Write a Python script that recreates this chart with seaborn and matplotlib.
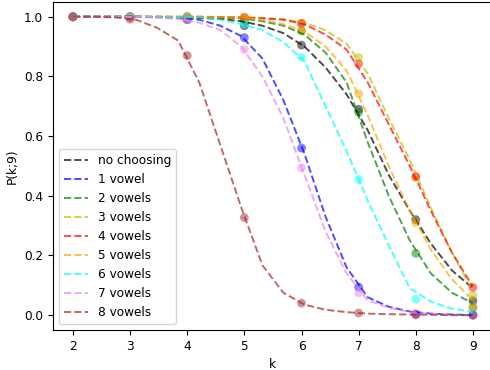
import numpy as np
import pandas as pd
import matplotlib
matplotlib.use("Agg")
import matplotlib.pyplot as plt
import seaborn as sns

labels = ["no choosing", "1 vowel", "2 vowels", "3 vowels", "4 vowels",
          "5 vowels", "6 vowels", "7 vowels", "8 vowels"]
colors = ["k", "b", "g", "y", "r", "orange", "cyan", "violet", "brown"]

# integer k where P(k;9) is evaluated exactly
k_points = [2, 3, 4, 5, 6, 7, 8, 9]
p_none   = [1.0, 1.0, 0.99, 0.97, 0.905, 0.69, 0.32, 0.048]
p_v1     = [1.0, 1.0, 0.995, 0.93, 0.56, 0.094, 0.004, 0.0]
p_v2     = [1.0, 1.0, 1.0, 0.985, 0.953, 0.68, 0.207, 0.025]
p_v3     = [1.0, 1.0, 1.0, 0.998, 0.978, 0.864, 0.46, 0.067]
p_v4     = [1.0, 1.0, 1.0, 0.998, 0.978, 0.842, 0.465, 0.093]
p_v5     = [1.0, 1.0, 1.0, 0.998, 0.953, 0.742, 0.31, 0.028]
p_v6     = [1.0, 1.0, 0.998, 0.975, 0.864, 0.455, 0.053, 0.005]
p_v7     = [1.0, 1.0, 0.99, 0.89, 0.494, 0.075, 0.003, 0.0]
p_v8     = [1.0, 0.992, 0.87, 0.327, 0.04, 0.007, 0.001, 0.0]

# continuous approximation on a finer k grid
k_curve = [2.0, 2.368, 2.737, 3.105, 3.474, 3.842, 4.211, 4.579, 4.947, 5.316,
           5.684, 6.053, 6.421, 6.789, 7.158, 7.526, 7.895, 8.263, 8.632, 9.0]
c_none = [1.0, 1.0, 1.0, 1.0, 0.999, 0.998, 0.996, 0.993, 0.985, 0.97,
          0.945, 0.90, 0.83, 0.74, 0.62, 0.47, 0.35, 0.24, 0.15, 0.09]
c_v1   = [1.0, 1.0, 1.0, 1.0, 0.999, 0.997, 0.99, 0.97, 0.935, 0.86,
          0.72, 0.54, 0.33, 0.16, 0.06, 0.028, 0.012, 0.005, 0.002, 0.0]
c_v2   = [1.0, 1.0, 1.0, 1.0, 1.0, 0.999, 0.998, 0.997, 0.995, 0.985,
          0.97, 0.94, 0.88, 0.78, 0.58, 0.40, 0.25, 0.14, 0.075, 0.04]
c_v3   = [1.0, 1.0, 1.0, 1.0, 1.0, 1.0, 1.0, 0.999, 0.998, 0.996,
          0.992, 0.98, 0.955, 0.91, 0.81, 0.66, 0.52, 0.36, 0.21, 0.08]
c_v4   = [1.0, 1.0, 1.0, 1.0, 1.0, 1.0, 1.0, 0.999, 0.998, 0.995,
          0.99, 0.975, 0.94, 0.89, 0.78, 0.64, 0.50, 0.35, 0.21, 0.095]
c_v5   = [1.0, 1.0, 1.0, 1.0, 1.0, 1.0, 1.0, 0.999, 0.998, 0.99,
          0.975, 0.95, 0.90, 0.82, 0.67, 0.50, 0.35, 0.22, 0.12, 0.05]
c_v6   = [1.0, 1.0, 1.0, 1.0, 1.0, 0.999, 0.998, 0.99, 0.975, 0.955,
          0.915, 0.85, 0.70, 0.55, 0.385, 0.234, 0.09, 0.045, 0.022, 0.01]
c_v7   = [1.0, 1.0, 1.0, 0.999, 0.997, 0.993, 0.98, 0.955, 0.90, 0.80,
          0.66, 0.47, 0.28, 0.14, 0.05, 0.025, 0.01, 0.004, 0.002, 0.0]
c_v8   = [1.0, 1.0, 0.998, 0.99, 0.963, 0.92, 0.78, 0.57, 0.36, 0.167,
          0.075, 0.035, 0.018, 0.01, 0.005, 0.003, 0.002, 0.001, 0.0, 0.0]

point_series = [p_none, p_v1, p_v2, p_v3, p_v4, p_v5, p_v6, p_v7, p_v8]
curve_series = [c_none, c_v1, c_v2, c_v3, c_v4, c_v5, c_v6, c_v7, c_v8]

pts = pd.concat([pd.DataFrame({"k": k_points, "P": v, "series": lab})
                 for lab, v in zip(labels, point_series)], ignore_index=True)
crv = pd.concat([pd.DataFrame({"k": k_curve, "P": v, "series": lab})
                 for lab, v in zip(labels, curve_series)], ignore_index=True)

palette = dict(zip(labels, colors))

plt.rcParams["font.family"] = ["DejaVu Sans"]
plt.rcParams["font.size"] = 8.7
fig, ax = plt.subplots(figsize=(4.9, 3.7), dpi=100)
fig.subplots_adjust(left=0.108, right=1.006, top=0.995, bottom=0.108)

for lab in labels:
    sub = crv[crv["series"] == lab]
    ax.plot(sub["k"], sub["P"], linestyle="--", color=palette[lab],
            alpha=0.7, linewidth=1.4, label=lab)
    subp = pts[pts["series"] == lab]
    sns.scatterplot(x=subp["k"], y=subp["P"], color=palette[lab], alpha=0.5,
                    s=40, edgecolor="none", ax=ax, legend=False)

ax.set_xlabel("k")
ax.set_ylabel("P(k;9)")
ax.set_xticks(k_points)
ax.legend(loc="lower left")
fig.savefig("out.png", dpi=100)
